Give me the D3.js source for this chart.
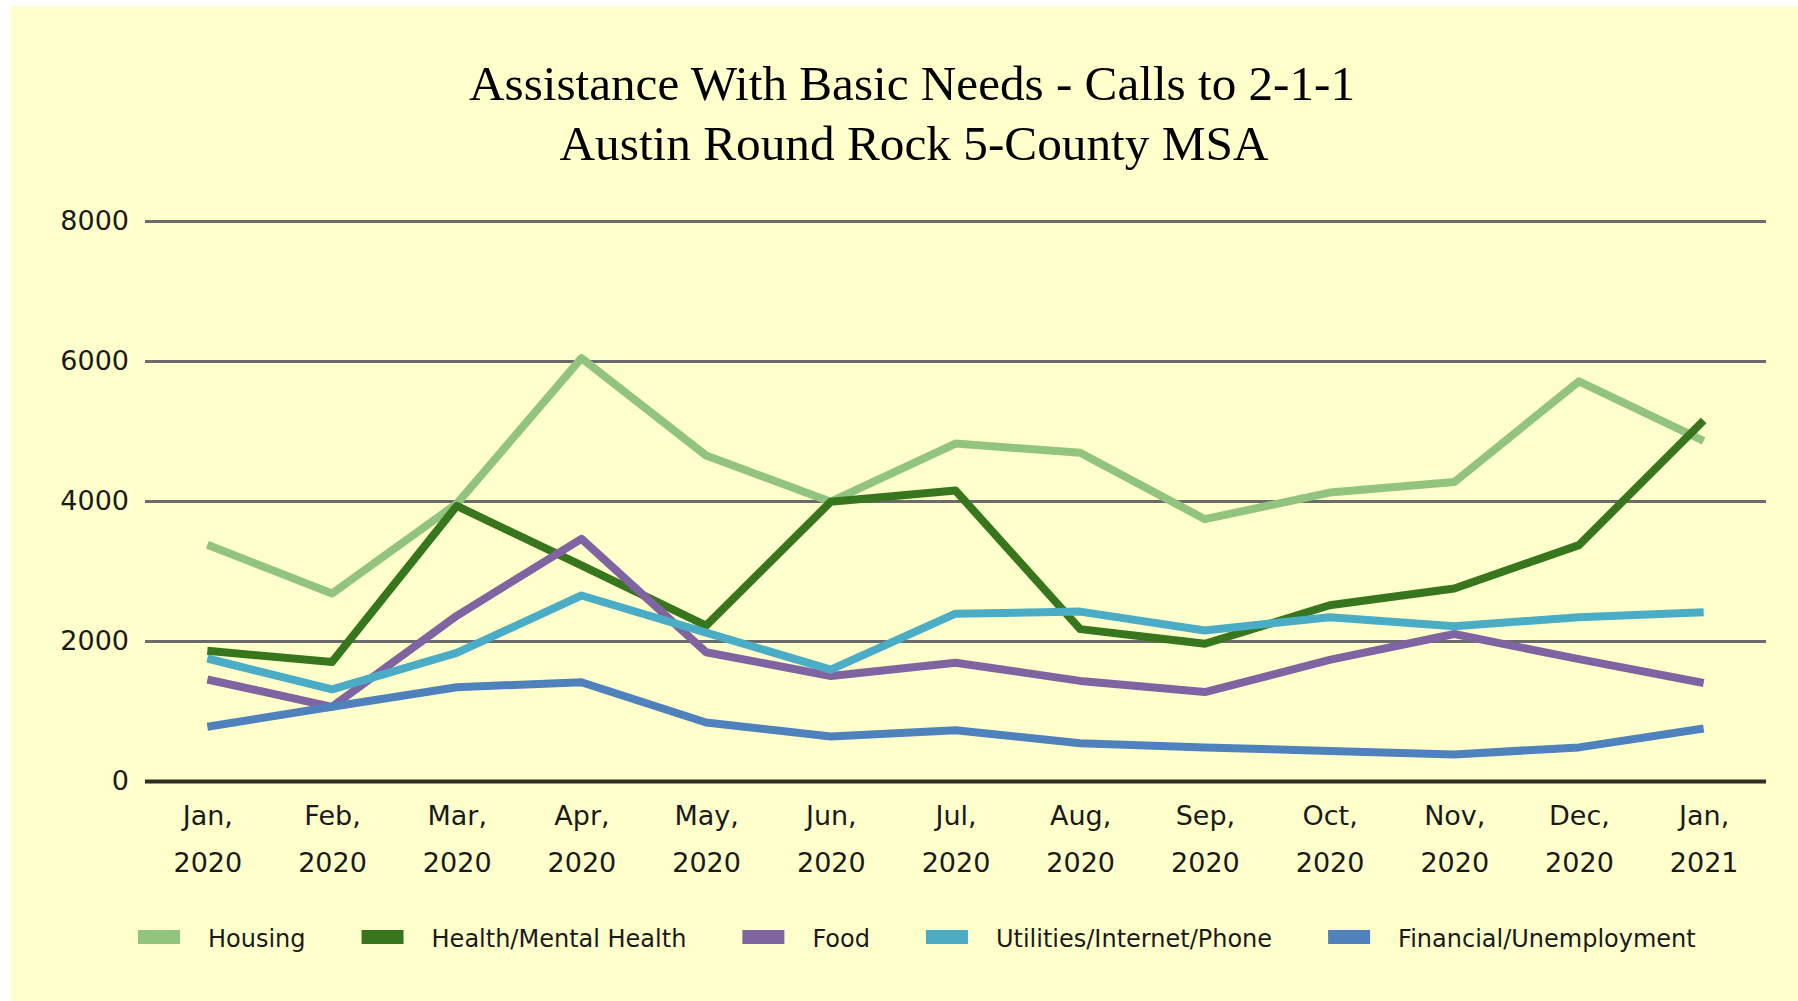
<!DOCTYPE html>
<html>
<head>
  <meta charset="utf-8">
  <title>Assistance With Basic Needs</title>
  <script src="https://cdn.jsdelivr.net/npm/d3@7"></script>
  <style>
    body { margin: 0; background: #ffffff; }
    .axis-label { font-family: "DejaVu Sans", sans-serif; font-size: 27px; fill: #1a1a1a; }
    .legend-label { font-family: "DejaVu Sans", sans-serif; font-size: 24px; fill: #1a1a1a; }
    .title { font-family: "Liberation Serif", serif; font-size: 48px; fill: #000; }
  </style>
</head>
<body>
<script>
  // months along the x axis
  var months = ["Jan, 2020", "Feb, 2020", "Mar, 2020", "Apr, 2020", "May, 2020", "Jun, 2020",
                "Jul, 2020", "Aug, 2020", "Sep, 2020", "Oct, 2020", "Nov, 2020", "Dec, 2020", "Jan, 2021"];

  var housing    = [3375, 2680, 3960, 6040, 4650, 3990, 4820, 4690, 3740, 4120, 4270, 5710, 4860];
  var health     = [1860, 1700, 3930, 3080, 2220, 3990, 4150, 2170, 1960, 2510, 2750, 3370, 5150];
  var food       = [1450, 1060, 2360, 3460, 1840, 1500, 1690, 1430, 1270, 1730, 2100, 1740, 1400];
  var utilities  = [1750, 1310, 1830, 2650, 2120, 1590, 2390, 2420, 2150, 2340, 2210, 2340, 2410];
  var financial  = [775, 1060, 1340, 1410, 835, 635, 725, 540, 480, 430, 380, 480, 750];

  var seriesNames = ["Housing", "Health/Mental Health", "Food", "Utilities/Internet/Phone", "Financial/Unemployment"];
  var seriesColors = ["#93c47d", "#38761d", "#8064a2", "#4bacc6", "#4f81bd"];
  var yTicks = [0, 2000, 4000, 6000, 8000];

  var allSeries = [housing, health, food, utilities, financial];

  var w = 1798, h = 1001;
  var plotLeft = 145, plotRight = 1766, plotTop = 221, plotBottom = 781;

  var svg = d3.select("body").append("svg")
              .attr("width", w)
              .attr("height", h);

  // chart area background
  svg.append("rect")
     .attr("x", 11).attr("y", 6)
     .attr("width", w - 11).attr("height", h - 6)
     .attr("fill", "#ffffcc");

  // title
  var title = svg.append("text")
                 .attr("class", "title")
                 .attr("text-anchor", "middle");
  title.append("tspan").attr("x", 912).attr("y", 100)
       .attr("textLength", 886).attr("lengthAdjust", "spacingAndGlyphs")
       .text("Assistance With Basic Needs - Calls to 2-1-1");
  title.append("tspan").attr("x", 914).attr("y", 160)
       .attr("textLength", 709).attr("lengthAdjust", "spacingAndGlyphs")
       .text("Austin Round Rock 5-County MSA");

  var xScale = d3.scalePoint()
                 .domain(months)
                 .range([plotLeft, plotRight])
                 .padding(0.5);

  var yScale = d3.scaleLinear()
                 .domain([0, 8000])
                 .range([plotBottom, plotTop]);

  // y axis with gridlines
  var yAxis = d3.axisLeft(yScale)
                .tickValues(yTicks)
                .tickFormat(d3.format("d"))
                .tickSize(-(plotRight - plotLeft))
                .tickPadding(16);

  var axisY = svg.append("g")
                 .attr("transform", "translate(" + plotLeft + ",0)")
                 .call(yAxis);
  axisY.select(".domain").remove();
  axisY.selectAll(".tick line")
       .attr("stroke", function (d) { return d === 0 ? "#2e2e22" : "#6b6b6b"; })
       .attr("stroke-width", function (d) { return d === 0 ? 4 : 3; });
  axisY.selectAll(".tick text")
       .attr("class", "axis-label")
       .attr("fill", null);
  axisY.attr("font-size", null).attr("font-family", null);

  // x axis, two-line labels
  var xAxis = d3.axisBottom(xScale).tickSize(0);
  var axisX = svg.append("g")
                 .attr("transform", "translate(0," + plotBottom + ")")
                 .call(xAxis);
  axisX.select(".domain").remove();
  axisX.attr("font-size", null).attr("font-family", null);
  axisX.selectAll(".tick text").each(function (d) {
    var t = d3.select(this);
    var parts = d.split(" ");
    t.text(null)
     .attr("class", "axis-label")
     .attr("y", 0).attr("dy", null)
     .attr("fill", null);
    t.append("tspan").attr("x", 0).attr("y", 44).text(parts[0]);
    t.append("tspan").attr("x", 0).attr("y", 91).text(parts[1]);
  });

  var lineFun = d3.line()
                  .x(function (d, i) { return xScale(months[i]); })
                  .y(function (d) { return yScale(d); });

  svg.append("g").selectAll("path")
     .data(allSeries)
     .enter().append("path")
     .attr("d", lineFun)
     .attr("fill", "none")
     .attr("stroke", function (d, i) { return seriesColors[i]; })
     .attr("stroke-width", 8)
     .attr("stroke-linejoin", "round");

  // legend
  var legend = svg.append("g").attr("transform", "translate(138, 937)");
  var lx = 0;
  seriesNames.forEach(function (name, i) {
    var item = legend.append("g").attr("transform", "translate(" + lx + ",0)");
    item.append("rect")
        .attr("x", 0).attr("y", -7)
        .attr("width", 42).attr("height", 14)
        .attr("fill", seriesColors[i]);
    var label = item.append("text")
        .attr("class", "legend-label")
        .attr("x", 70).attr("y", 10)
        .text(name);
    lx += 70 + label.node().getComputedTextLength() + 56;
  });
</script>
</body>
</html>
